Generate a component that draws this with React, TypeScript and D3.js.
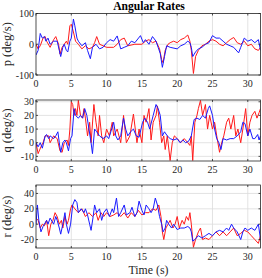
import React from "react";
import * as d3 from "d3";

const W = 262, H = 278;

const xTicks = [0, 5, 10, 15, 20, 25, 30];
const xDomain = [0, 31.8];

const pT = [0,0.3,0.6,1,1.3,1.5,2,2.5,2.8,3.2,3.4,3.7,4,4.3,4.5,4.8,5,5.3,5.6,6,6.5,7,7.5,8,8.3,8.6,9,9.5,10,11,11.5,12,12.5,13,14,15,15.5,16,16.5,17,17.5,17.8,18,18.3,18.7,19,19.5,20,20.5,21,21.5,21.8,22,22.3,22.6,23,23.5,24,24.5,25,25.5,26,26.5,27,27.5,28,28.5,29,29.5,30,30.5,31,31.5,31.8];
const pRed = [0,-15,-5,20,25,10,-10,15,25,0,-32,-10,0,10,0,60,65,40,10,0,-15,-5,-15,-10,5,25,0,-5,-10,-10,0,15,20,-5,0,0,10,15,5,10,-15,-50,-60,-20,0,5,10,5,15,20,30,10,-20,-95,-40,-20,-5,0,10,15,10,0,-5,5,15,22,5,0,10,-5,0,-15,-20,-10];
const pBT = [0,0.3,0.6,0.9,1.2,1.4,1.7,2,2.5,3,3.3,3.5,3.8,4,4.3,4.5,4.8,5,5.3,5.5,5.8,6,6.5,7,7.3,7.7,8,8.5,9,9.5,10,10.5,11,11.5,12,12.5,13,13.5,14,14.8,15.2,15.5,16,16.5,17,17.3,17.6,17.9,18.2,18.5,19,20,20.5,21,21.5,21.8,22,22.2,22.6,23,23.5,24,24.5,25,25.5,26,26.5,27,27.5,28,28.7,29,29.5,30,30.5,31,31.5,31.8];
const pBlue = [-35,-20,35,20,25,10,20,0,10,10,-20,-40,-10,0,-20,-25,10,20,82,60,20,10,-5,5,-20,-47,-10,0,-15,-10,5,15,10,27,-15,-10,-5,10,5,28,5,15,0,25,10,-10,-30,-75,-40,-5,-10,-15,-5,0,10,5,-10,-40,-25,-15,-10,0,5,28,20,20,10,0,-5,-10,-28,-10,20,10,15,5,15,-20];

const qT = [0,0.3,0.7,1,1.3,1.8,2,2.5,3,3.4,3.7,4,4.4,4.6,4.8,5,5.2,5.4,5.6,5.8,6,6.3,6.6,6.8,7,7.3,7.6,7.8,8.2,8.5,8.8,9,9.3,9.6,10,10.4,10.8,11,11.5,12,12.4,12.8,13.3,13.8,14.3,14.6,15,15.3,15.6,16,16.3,16.6,17,17.2,17.5,17.8,18.1,18.3,18.6,19,19.3,19.6,20,20.5,21,21.5,21.8,22,22.2,22.5,22.8,23,23.3,23.6,24,24.3,24.6,25,25.3,25.6,26,26.3,26.6,27,27.3,27.6,28,28.3,28.6,29,29.3,29.7,30,30.3,30.6,31,31.3,31.6,31.8];
const qRed = [0,-8,-3,0,5,5,0,5,3,-6,-7,0,2,-2,10,30,28,20,25,20,31,20,18,25,18,5,15,0,28,15,5,20,5,0,10,5,15,5,10,0,20,0,5,21,0,10,0,20,15,25,2,15,20,27,15,0,5,-5,5,-13,0,5,3,0,3,0,-2,5,-13,15,20,25,31,20,28,10,20,10,15,5,-7,0,5,15,18,10,20,5,10,0,10,25,5,15,20,23,18,22,25];
const qBT = [0,0.3,0.6,0.9,1.3,1.5,1.8,2,2.5,2.8,3.1,3.3,3.5,3.8,4.1,4.3,4.6,4.9,5.1,5.4,5.6,6,6.3,6.6,6.9,7.2,7.5,7.8,8,8.3,8.6,9,9.5,10,10.3,10.6,11,11.3,11.6,12,12.4,12.7,13,13.4,13.8,14.2,14.6,15.1,15.4,15.8,16.1,16.6,17,17.3,17.6,17.9,18.2,18.6,19,19.5,20,20.4,20.8,21.2,21.6,22,22.4,22.8,23.2,23.6,24,24.4,24.6,25,25.3,25.6,25.9,26.2,26.5,27,27.5,28,28.5,29,29.3,29.6,30,30.3,30.7,31,31.4,31.6,31.8];
const qBlue = [0,-3,0,-4,5,6,3,5,3,5,8,0,-7,0,2,0,-6,3,5,25,20,18,20,18,25,20,10,0,-8,10,8,5,3,5,3,8,15,5,2,5,18,10,5,8,10,5,4,15,18,15,10,20,28,25,20,5,8,5,3,2,3,0,2,0,1,5,17,18,17,20,18,25,27,20,10,3,0,-5,3,2,3,3,5,8,15,14,5,10,3,3,6,2,5];

const rRT = [0,0.3,0.6,0.9,1.2,1.5,1.8,2.1,2.4,2.7,3,3.3,3.6,3.8,4.1,4.4,4.6,4.9,5.1,5.5,6,6.5,7,7.5,8,8.5,8.8,9.2,9.6,10,10.5,11,11.5,12,12.5,13,13.5,14,14.5,15,15.5,16,16.5,17,17.4,17.7,17.9,18.1,18.4,18.7,19,19.4,19.7,20,20.3,20.7,21,21.3,21.6,21.8,22,22.3,22.6,23,23.3,23.6,24,24.5,25,25.5,26,26.5,27,27.5,28,28.5,29,29.5,30,30.5,31,31.5,31.8];
const rRed = [8,5,-5,0,-2,5,-15,0,5,15,10,0,5,-5,10,0,5,20,25,20,15,20,10,15,10,15,5,15,10,15,10,12,15,10,15,8,15,10,18,12,15,15,20,18,25,10,-10,-20,-5,0,5,-5,0,10,-5,5,0,10,5,15,0,-30,-20,-10,-5,-20,-18,-20,-15,-10,-15,-10,-15,-10,-5,-15,-12,-8,-10,-15,-20,-25,-15];
const rBT = [0,0.2,0.4,0.7,1,1.5,1.7,2,2.5,2.8,3,3.3,3.5,3.8,4.1,4.3,4.6,4.9,5.2,5.5,5.8,6,6.4,6.8,7,7.3,7.6,7.8,8.1,8.3,8.6,9,9.3,9.6,10,10.4,10.8,11,11.4,11.7,12,12.5,12.8,13.3,13.6,14,14.3,14.6,15,15.3,15.6,16,16.3,16.6,16.9,17.2,17.5,17.8,18,18.3,18.5,18.8,19.2,19.5,20,20.5,21,21.5,21.8,22,22.2,22.5,23,23.5,24,24.5,25,25.5,26,26.5,27,27.3,27.7,28,28.5,29,29.3,29.6,30,30.5,31,31.5,31.8];
const rBlue = [0,25,5,-10,-3,5,0,8,0,10,5,-5,-13,0,15,0,-12,0,25,32,28,15,20,15,20,12,0,-8,10,25,15,20,5,15,20,10,20,15,34,10,15,25,12,15,22,10,15,30,18,12,25,20,15,20,34,25,10,0,-10,-5,5,0,-5,0,-7,-5,-5,-3,-5,-10,-22,-20,-15,-18,-15,-12,-15,-10,-8,-10,-5,-8,0,-5,-10,-20,-10,-5,-8,-5,-8,0,-20];

const panels = [
  { label: "p (deg/s)", top: 13.5, bottom: 75, domain: [-100, 100], ticks: [-100, 0, 100],
    red: { t: pT, v: pRed }, blue: { t: pBT, v: pBlue } },
  { label: "q (deg/s)", top: 100, bottom: 161, domain: [-13.4, 31.3], ticks: [-10, 0, 10, 20, 30],
    red: { t: qT, v: qRed }, blue: { t: qBT, v: qBlue } },
  { label: "r (deg/s)", top: 185, bottom: 248, domain: [-31, 51], ticks: [-20, 0, 20, 40],
    red: { t: rRT, v: rRed }, blue: { t: rBT, v: rBlue } },
];

const L = 36, R = 260.5;
const font = "'Liberation Serif', 'Times New Roman', serif";

export default function App() {
  const x = d3.scaleLinear().domain(xDomain).range([L, R]);
  return (
    <svg width={W} height={H} style={{ display: "block", position: "absolute", left: 0, top: 0 }} fontFamily={font}>
      <rect width={W} height={H} fill="#fff" />
      <text x={149} y={9.5} textAnchor="middle" fontSize={11.6} fontWeight="bold" fill="#000">Angular Rates</text>
      {panels.map((pn, i) => {
        const y = d3.scaleLinear().domain(pn.domain).range([pn.bottom, pn.top]);
        const line = (s: { t: number[]; v: number[] }) =>
          d3.line<number>().x((_, k) => x(s.t[k])).y((d) => y(d))(s.v) || "";
        const clipId = `clip${i}`;
        const mid = (pn.top + pn.bottom) / 2;
        return (
          <g key={i}>
            <defs>
              <clipPath id={clipId}>
                <rect x={L} y={pn.top} width={R - L} height={pn.bottom - pn.top} />
              </clipPath>
            </defs>
            {xTicks.filter((t) => t > 0).map((t) => (
              <line key={"gx" + t} x1={x(t)} x2={x(t)} y1={pn.top} y2={pn.bottom} stroke="#dcdcdc" strokeWidth={0.8} />
            ))}
            {pn.ticks.map((t) => (
              <line key={"gy" + t} x1={L} x2={R} y1={y(t)} y2={y(t)} stroke="#dcdcdc" strokeWidth={0.8} />
            ))}
            <g clipPath={`url(#${clipId})`}>
              <path d={line(pn.red)} fill="none" stroke="#ff1a1a" strokeWidth={1} />
              <path d={line(pn.blue)} fill="none" stroke="#1a1aff" strokeWidth={1} />
            </g>
            <rect x={L} y={pn.top} width={R - L} height={pn.bottom - pn.top} fill="none" stroke="#262626" strokeWidth={0.8} />
            {xTicks.map((t) => (
              <g key={"tx" + t}>
                <line x1={x(t)} x2={x(t)} y1={pn.bottom} y2={pn.bottom - 2} stroke="#262626" strokeWidth={0.8} />
                <line x1={x(t)} x2={x(t)} y1={pn.top} y2={pn.top + 2} stroke="#262626" strokeWidth={0.8} />
                <text x={x(t)} y={pn.bottom + 11.5} textAnchor="middle" fontSize={10} fill="#262626">{t}</text>
              </g>
            ))}
            {pn.ticks.map((t) => (
              <g key={"ty" + t}>
                <line x1={L} x2={L + 2} y1={y(t)} y2={y(t)} stroke="#262626" strokeWidth={0.8} />
                <line x1={R} x2={R - 2} y1={y(t)} y2={y(t)} stroke="#262626" strokeWidth={0.8} />
                <text x={L - 2} y={y(t) + 3.5} textAnchor="end" fontSize={10} fill="#262626">{t}</text>
              </g>
            ))}
            <text transform={`translate(11,${mid}) rotate(-90)`} textAnchor="middle" fontSize={12.5} fill="#262626">{pn.label}</text>
          </g>
        );
      })}
      <text x={148.5} y={273.5} textAnchor="middle" fontSize={11.8} fill="#262626">Time (s)</text>
    </svg>
  );
}
